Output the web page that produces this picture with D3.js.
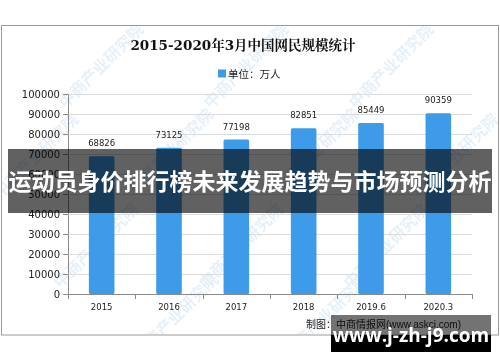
<!DOCTYPE html>
<html>
<head>
<meta charset="utf-8">
<script src="https://cdn.jsdelivr.net/npm/d3@7"></script>
<style>
  body { margin: 0; background: #fff; }
  svg { display: block; }
</style>
</head>
<body>
<svg id="chart"></svg>
<script>
// chart data
const categories = ["2015", "2016", "2017", "2018", "2019.6", "2020.3"];
const netizens = [68826, 73125, 77198, 82851, 85449, 90359];
const yTicks = [0, 10000, 20000, 30000, 40000, 50000, 60000, 70000, 80000, 90000, 100000];

const titleText = "2015-2020年3月中国网民规模统计";
const legendText = "单位：万人";
const sourceText = "制图：中商情报网(www.askci.com)";
const bannerText = "运动员身价排行榜未来发展趋势与市场预测分析";
const siteText = "www.j-zh-j9.com";
const watermarkText = "中商产业研究院";

const width = 500;
const height = 362;
const margin = { top: 94, right: 28, bottom: 68, left: 68 };
const barColor = "#3d9be9";
const latin = "'DejaVu Sans', 'Noto Sans CJK SC', sans-serif";
const cjk = "'Noto Sans CJK SC', sans-serif";

const svg = d3.select("#chart").attr("width", width).attr("height", height);

// frame
svg.append("rect")
  .attr("x", 1.5).attr("y", 25.5)
  .attr("width", 497).attr("height", 309.5)
  .attr("fill", "#fff")
  .attr("stroke", "#9a9a9a");

svg.append("clipPath").attr("id", "frameClip")
  .append("rect").attr("x", 2).attr("y", 26).attr("width", 496).attr("height", 308);

const scaleX = d3.scaleBand()
  .domain(categories)
  .range([margin.left, width - margin.right])
  .paddingInner(0.62)
  .paddingOuter(0.31);

const scaleY = d3.scaleLinear()
  .domain([0, 100000])
  .range([height - margin.bottom, margin.top]);

// watermark (faint, diagonal)
const wm = svg.append("g").attr("clip-path", "url(#frameClip)")
  .attr("fill", "#9cc3e6").attr("opacity", 0.25)
  .style("font-family", cjk).style("font-size", "16px").style("font-weight", "bold");
[[250, 70], [395, 70], [105, 70], [175, 155], [320, 155], [460, 160], [40, 160],
 [245, 250], [390, 250], [100, 250], [180, 320], [330, 320]].forEach(([x, y]) => {
  wm.append("text")
    .attr("transform", `translate(${x},${y}) rotate(-45)`)
    .attr("text-anchor", "middle")
    .text(watermarkText);
});

// y axis
svg.append("g")
  .attr("transform", `translate(${margin.left},0)`)
  .call(d3.axisLeft(scaleY).tickValues(yTicks).tickSize(5).tickPadding(3).tickFormat(d3.format("d")))
  .call(g => g.select(".domain").attr("stroke", "#8a8a8a"))
  .call(g => g.selectAll(".tick line").attr("stroke", "#8a8a8a"))
  .call(g => g.selectAll(".tick text")
    .style("font-family", latin).style("font-size", "10px").attr("fill", "#222"));

// gridlines
svg.append("g")
  .selectAll("line")
  .data(yTicks.filter(d => d > 0))
  .join("line")
  .attr("x1", margin.left + 0.5)
  .attr("x2", width - margin.right)
  .attr("y1", d => Math.round(scaleY(d)) + 0.5)
  .attr("y2", d => Math.round(scaleY(d)) + 0.5)
  .attr("stroke", "#dcdcdc");

// x axis
const xGroup = svg.append("g")
  .attr("transform", `translate(0,${height - margin.bottom})`);
xGroup.append("line")
  .attr("x1", margin.left).attr("x2", width - margin.right)
  .attr("y1", 0.5).attr("y2", 0.5)
  .attr("stroke", "#8a8a8a");
const step = scaleX.step();
const bounds = d3.range(categories.length + 1).map(i => margin.left + i * step);
xGroup.selectAll(".xtick")
  .data(bounds)
  .join("line")
  .attr("class", "xtick")
  .attr("x1", d => Math.round(d) + 0.5).attr("x2", d => Math.round(d) + 0.5)
  .attr("y1", 0).attr("y2", 5)
  .attr("stroke", "#8a8a8a");
xGroup.selectAll(".xlabel")
  .data(categories)
  .join("text")
  .attr("class", "xlabel")
  .attr("x", d => scaleX(d) + scaleX.bandwidth() / 2)
  .attr("y", 16)
  .attr("text-anchor", "middle")
  .style("font-family", latin).style("font-size", "8.5px").attr("fill", "#222")
  .text(d => d);

// bars
svg.append("g")
  .selectAll("rect")
  .data(netizens)
  .join("rect")
  .attr("x", (d, i) => scaleX(categories[i]))
  .attr("y", d => scaleY(d))
  .attr("width", scaleX.bandwidth())
  .attr("height", d => scaleY(0) - scaleY(d))
  .attr("rx", 1.5)
  .attr("fill", barColor);

// value labels
svg.append("g")
  .selectAll("text")
  .data(netizens)
  .join("text")
  .attr("x", (d, i) => scaleX(categories[i]) + scaleX.bandwidth() / 2)
  .attr("y", d => scaleY(d) - 10)
  .attr("text-anchor", "middle")
  .style("font-family", latin).style("font-size", "8.5px").attr("fill", "#222")
  .text(d => d);

// title
svg.append("text")
  .attr("x", 243).attr("y", 50)
  .attr("text-anchor", "middle")
  .style("font-family", "'DejaVu Serif', 'Noto Serif CJK SC', 'Noto Sans CJK SC', serif")
  .style("font-size", "13.5px").style("font-weight", "bold")
  .attr("fill", "#111")
  .text(titleText);

// legend
svg.append("rect")
  .attr("x", 218).attr("y", 69.5)
  .attr("width", 8).attr("height", 8)
  .attr("fill", barColor);
svg.append("text")
  .attr("x", 228).attr("y", 77.5)
  .style("font-family", cjk).style("font-size", "10.5px")
  .attr("fill", "#222")
  .text(legendText);

// source
svg.append("text")
  .attr("x", 306).attr("y", 328)
  .style("font-family", "'Liberation Sans', 'Noto Sans CJK SC', sans-serif")
  .style("font-size", "10px")
  .attr("fill", "#222")
  .text(sourceText);

// banner overlay
svg.append("rect")
  .attr("x", 8).attr("y", 149)
  .attr("width", 484).attr("height", 64)
  .attr("fill", "rgba(0,0,0,0.62)");
svg.append("text")
  .attr("x", 250).attr("y", 189.5)
  .attr("text-anchor", "middle")
  .style("font-family", cjk).style("font-size", "23px").style("font-weight", "bold")
  .attr("fill", "#fff")
  .text(bannerText);

// site overlay
svg.append("rect")
  .attr("x", 331).attr("y", 315)
  .attr("width", 160).attr("height", 20)
  .attr("fill", "rgba(0,0,0,0.55)");
svg.append("rect")
  .attr("x", 331).attr("y", 335)
  .attr("width", 160).attr("height", 17)
  .attr("fill", "#000");
svg.append("text")
  .attr("x", 411).attr("y", 342)
  .attr("text-anchor", "middle")
  .style("font-family", "'Open Sans', 'DejaVu Sans', sans-serif")
  .style("font-size", "19px").style("font-weight", "bold")
  .attr("fill", "#fff")
  .text(siteText);
</script>
</body>
</html>
